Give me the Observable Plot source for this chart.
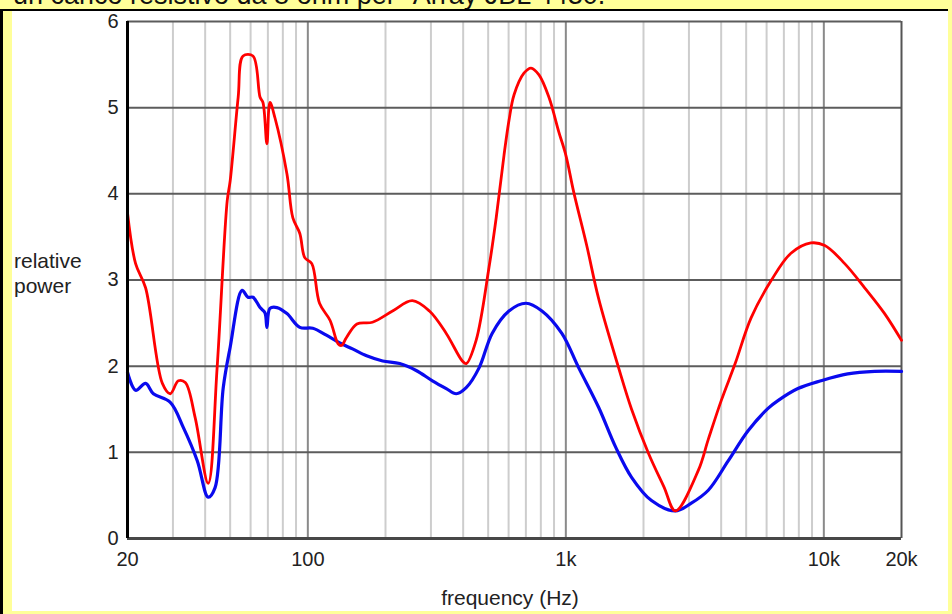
<!DOCTYPE html>
<html>
<head>
<meta charset="utf-8">
<script src="https://cdn.jsdelivr.net/npm/d3@7"></script>
<script src="https://cdn.jsdelivr.net/npm/@observablehq/plot@0.6"></script>
<style>
  html, body { margin: 0; padding: 0; }
  body { width: 952px; height: 614px; background: #ffff99; position: relative; overflow: hidden;
         font-family: "Liberation Sans", Arial, sans-serif; color: #222; }
  #title { position: absolute; left: 13px; top: -18px; font-size: 27px; line-height: 27px; white-space: nowrap; color: #111; }
  #frame { position: absolute; left: 0; top: 9px; width: 948px; height: 605px; box-sizing: border-box;
           border-left: 3px solid #000; border-top: 2px solid #000; }
  #chart { position: absolute; left: 12px; top: 11px; width: 936px; height: 600px; background: #fff; }
  #ylab { position: absolute; left: 14px; top: 248px; font-size: 21px; line-height: 25px; }
  #xlab { position: absolute; left: 360px; top: 587px; width: 300px; text-align: center; font-size: 21px; line-height: 21px; }
</style>
</head>
<body>
<div id="title">un carico resistivo da 8 ohm per "Array JBL 4430."</div>
<div id="frame"></div>
<div id="chart"></div>
<div id="ylab">relative<br>power</div>
<div id="xlab">frequency (Hz)</div>
<script>
// Tick values and labels
const xTickValues = [20, 100, 1000, 10000, 20000];
const xTickLabels = ["20", "100", "1k", "10k", "20k"];
const yTickValues = [0, 1, 2, 3, 4, 5, 6];
const yTickLabels = ["0", "1", "2", "3", "4", "5", "6"];
const decadeFreq = [100, 1000, 10000];
const minorFreq = [30, 40, 50, 60, 70, 80, 90, 200, 300, 400, 500, 600, 700, 800, 900,
                   2000, 3000, 4000, 5000, 6000, 7000, 8000, 9000];
const powerGrid = [1, 2, 3, 4, 5, 6];

// Red series (frequency Hz, relative power)
const redFreq = [20, 21.5, 23.5, 27.3, 29.3, 31.5, 33.5, 36.6, 41.1, 44.5, 48.7, 50, 53.7, 56.1, 61.3,
  65.3, 67, 69.4, 71.3, 74.6, 83, 87.5, 93.1, 97.3, 103.6, 111, 122, 131, 135, 141, 155, 178, 213,
  254, 296, 344, 397, 411, 449, 504, 537, 576, 602, 630, 688, 733, 787, 860, 939, 1000, 1073, 1205,
  1341, 1602, 1798, 2090, 2400, 2658, 3262, 3566, 4002, 4532, 5224, 6240, 7456, 8906, 10088, 12048,
  14394, 17202, 20000];
const redPower = [3.78, 3.19, 2.91, 1.80, 1.68, 1.83, 1.81, 1.40, 0.64, 1.98, 3.92, 4.15, 5.12, 5.60, 5.60,
  5.12, 5.06, 4.58, 5.06, 4.88, 4.23, 3.72, 3.54, 3.26, 3.19, 2.73, 2.53, 2.26, 2.24, 2.33, 2.49, 2.51, 2.64,
  2.76, 2.64, 2.38, 2.06, 2.03, 2.30, 3.15, 3.72, 4.45, 4.85, 5.15, 5.40, 5.46, 5.38, 5.12, 4.72, 4.45, 4.02, 3.40,
  2.78, 1.98, 1.50, 0.99, 0.60, 0.32, 0.79, 1.15, 1.60, 2.03, 2.56, 2.99, 3.31, 3.43, 3.40, 3.19,
  2.91, 2.61, 2.30];

// Blue series
const blueFreq = [20, 21.5, 23.5, 25.2, 29.3, 32.9, 37.3, 41.1, 43.7, 47, 50, 55.6, 58.6, 61.3, 65.3, 68.2,
  69.4, 71.3, 75.9, 83, 93.1, 104.5, 118, 133, 149, 169, 195, 227, 263, 304, 344, 376, 411, 461, 518,
  602, 701, 808, 965, 1122, 1341, 1560, 1798, 2148, 2658, 3064, 3566, 4258, 5086, 6078, 6640, 7934,
  9736, 12374, 15736, 20000];
const bluePower = [1.93, 1.72, 1.80, 1.68, 1.58, 1.29, 0.90, 0.48, 0.59, 1.75, 2.22, 2.88, 2.80, 2.80, 2.68, 2.62,
  2.45, 2.67, 2.68, 2.61, 2.45, 2.44, 2.36, 2.27, 2.20, 2.12, 2.06, 2.03, 1.95, 1.83, 1.74, 1.68, 1.75, 1.98, 2.38,
  2.64, 2.73, 2.64, 2.38, 1.98, 1.52, 1.06, 0.71, 0.44, 0.32, 0.41, 0.56, 0.90, 1.25, 1.51, 1.60, 1.74,
  1.83, 1.91, 1.94, 1.94];

const red = redFreq.map((f, i) => ({f, p: redPower[i]}));
const blue = blueFreq.map((f, i) => ({f, p: bluePower[i]}));

const chart = Plot.plot({
  width: 936,
  height: 600,
  marginLeft: 115,
  marginRight: 47,
  marginTop: 10,
  marginBottom: 73,
  style: {background: "#fff", fontFamily: "'Liberation Sans', Arial, sans-serif", fontSize: "20px", color: "#222", overflow: "visible"},
  x: {type: "log", domain: [20, 20000], ticks: xTickValues, tickFormat: d => xTickLabels[xTickValues.indexOf(d)],
      tickSize: 0, tickPadding: 13, label: null},
  y: {domain: [0, 6], ticks: yTickValues, tickFormat: d => yTickLabels[yTickValues.indexOf(d)],
      tickSize: 0, tickPadding: 9, label: null},
  marks: [
    Plot.ruleX(minorFreq, {stroke: "#cdcdcd", strokeWidth: 2}),
    Plot.ruleX(decadeFreq, {stroke: "#8a8a8a", strokeWidth: 2}),
    Plot.ruleY(powerGrid, {stroke: "#5c5c5c", strokeWidth: 2}),
    Plot.ruleX([20000], {stroke: "#555", strokeWidth: 2}),
    Plot.line(blue, {x: "f", y: "p", stroke: "#0a0aee", strokeWidth: 3.2, curve: "catmull-rom"}),
    Plot.line(red, {x: "f", y: "p", stroke: "#ff0000", strokeWidth: 2.8, curve: "catmull-rom"}),
    Plot.ruleY([0], {stroke: "#474747", strokeWidth: 3}),
    Plot.ruleX([20], {stroke: "#000", strokeWidth: 3})
  ]
});
document.getElementById("chart").appendChild(chart);
</script>
</body>
</html>
